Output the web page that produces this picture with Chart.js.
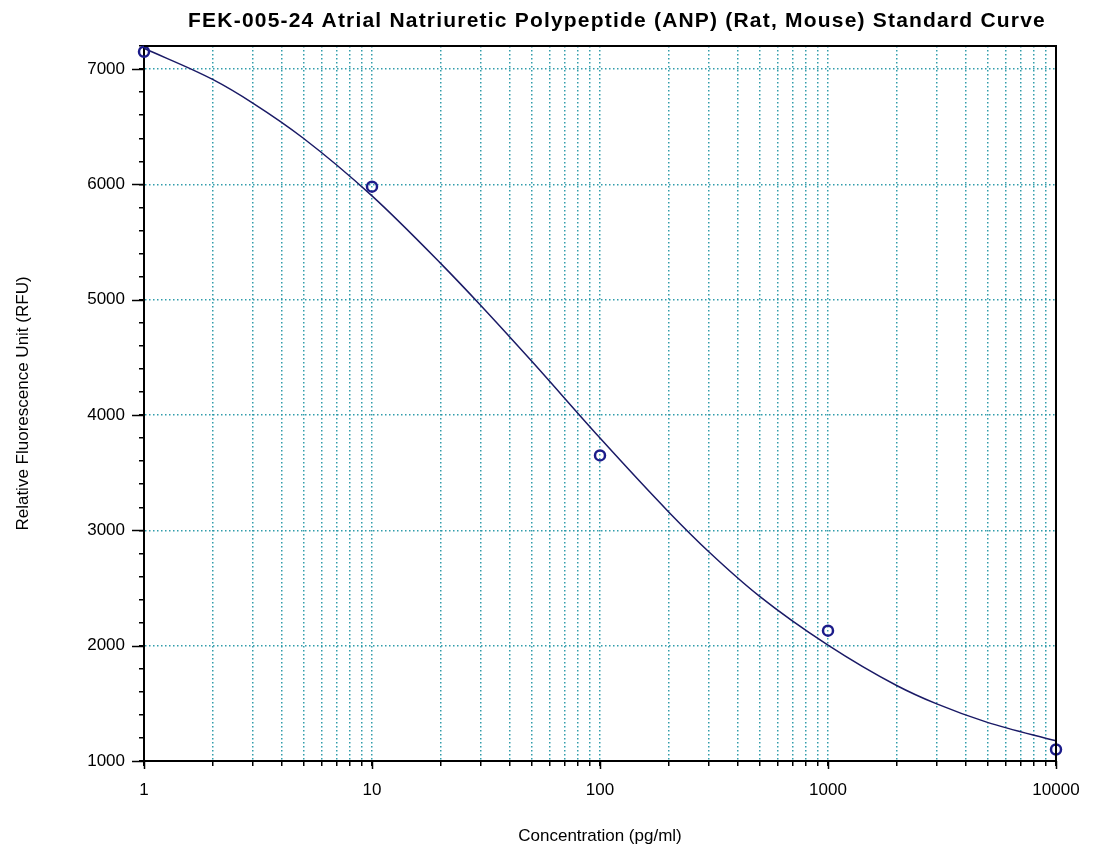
<!DOCTYPE html>
<html>
<head>
<meta charset="utf-8">
<title>ANP Standard Curve</title>
<script src="https://cdn.jsdelivr.net/npm/chart.js@4/dist/chart.umd.min.js"></script>
<style>
  html, body { margin: 0; padding: 0; background: #fff; }
  #wrap { width: 1096px; height: 852px; }
</style>
</head>
<body>
<div id="wrap"><canvas id="curveChart" width="1096" height="852"></canvas></div>
<script>
// standards (measured points)
const concentrations = [1, 10, 100, 1000, 10000];
const rfuMeasured = [7150, 5980, 3650, 2130, 1100];

// fitted curve
const curveConc = [1, 2, 3, 5, 10, 20, 30, 50, 100, 200, 300, 500, 1000, 2000, 3000, 5000, 10000];
const curveRfu = [7180, 6910, 6705, 6400, 5900, 5315, 4950, 4470, 3800, 3160, 2815, 2430, 2005, 1655, 1495, 1335, 1175];

const chartTitle = 'FEK-005-24 Atrial Natriuretic Polypeptide (ANP) (Rat, Mouse) Standard Curve';
const xTitle = 'Concentration (pg/ml)';
const yTitle = 'Relative Fluorescence Unit (RFU)';

const gridColor = 'rgba(38,152,166,0.95)';
const font = 'Liberation Sans, Arial, sans-serif';

function isPow10(v) {
    const p = Math.round(Math.log10(v));
    return Math.abs(v - Math.pow(10, p)) < 1e-6;
}

// title, top/right frame and longer major ticks
const framePlugin = {
    id: 'frame',
    afterDraw(chart) {
        const { ctx, chartArea: a, scales } = chart;
        ctx.save();
        ctx.fillStyle = '#000';
        ctx.font = 'bold 21px ' + font;
        ctx.textAlign = 'center';
        ctx.textBaseline = 'middle';
        if ('letterSpacing' in ctx) ctx.letterSpacing = '1.2px';
        ctx.fillText(chartTitle, 617, 21);
        if ('letterSpacing' in ctx) ctx.letterSpacing = '0px';

        ctx.strokeStyle = '#000';
        ctx.lineWidth = 2;
        ctx.beginPath();
        ctx.moveTo(a.left, a.top);
        ctx.lineTo(a.right, a.top);
        ctx.lineTo(a.right, a.bottom);
        ctx.stroke();

        ctx.lineWidth = 1.5;
        scales.y.ticks.forEach(t => {
            if (t.value % 1000 !== 0) return;
            const py = Math.round(scales.y.getPixelForValue(t.value)) + 0.5;
            ctx.beginPath();
            ctx.moveTo(a.left - 12, py);
            ctx.lineTo(a.left, py);
            ctx.stroke();
        });
        scales.x.ticks.forEach(t => {
            if (!isPow10(t.value)) return;
            const px = Math.round(scales.x.getPixelForValue(t.value)) + 0.5;
            ctx.beginPath();
            ctx.moveTo(px, a.bottom);
            ctx.lineTo(px, a.bottom + 8);
            ctx.stroke();
        });
        ctx.restore();
    }
};

const ctx = document.getElementById('curveChart').getContext('2d');
const curveChart = new Chart(ctx, {
    type: 'scatter',
    data: {
        datasets: [{
            label: 'Standards',
            data: concentrations.map((c, i) => ({ x: c, y: rfuMeasured[i] })),
            showLine: false,
            pointStyle: 'circle',
            pointRadius: 5,
            pointBorderWidth: 2.5,
            pointBorderColor: '#1c1c8a',
            pointBackgroundColor: 'rgba(0,0,0,0)',
            clip: false
        }, {
            label: 'Fit',
            data: curveConc.map((c, i) => ({ x: c, y: curveRfu[i] })),
            showLine: true,
            borderColor: '#1a1a66',
            borderWidth: 1.5,
            pointRadius: 0,
            cubicInterpolationMode: 'monotone',
            clip: false
        }]
    },
    options: {
        responsive: false,
        animation: false,
        layout: { padding: { left: 0, right: 40, top: 46, bottom: 0 } },
        plugins: {
            legend: { display: false },
            tooltip: { enabled: false },
            title: { display: false }
        },
        scales: {
            x: {
                type: 'logarithmic',
                min: 1,
                max: 10000,
                afterBuildTicks: s => {
                    s.ticks = s.ticks.filter(t => {
                        const m = t.value / Math.pow(10, Math.floor(Math.log10(t.value) + 1e-9));
                        return Math.abs(m - Math.round(m)) < 1e-6;
                    });
                },
                afterFit: s => { s.height = 91; },
                grid: {
                    color: c => (c.tick && (c.tick.value === 1 || c.tick.value === 10000)) ? 'rgba(0,0,0,0)' : gridColor,
                    lineWidth: 1.5,
                    tickColor: '#000',
                    tickLength: 5,
                    tickWidth: 1.5
                },
                border: { display: true, color: '#000', width: 2, dash: [1.5, 2.5] },
                ticks: {
                    autoSkip: false,
                    maxRotation: 0,
                    padding: 14,
                    color: '#000',
                    font: { family: font, size: 17 },
                    callback: v => isPow10(v) ? String(Math.round(v)) : ''
                },
                title: {
                    display: true,
                    text: xTitle,
                    color: '#000',
                    font: { family: font, size: 17 },
                    padding: { top: 0, bottom: 5 }
                }
            },
            y: {
                min: 1000,
                max: 7200,
                afterFit: s => { s.width = 144; },
                grid: {
                    color: c => (c.tick && c.tick.value % 1000 === 0 && c.tick.value !== 1000) ? gridColor : 'rgba(0,0,0,0)',
                    lineWidth: 1.5,
                    tickColor: '#000',
                    tickLength: 5,
                    tickWidth: 1.5
                },
                border: { display: true, color: '#000', width: 2, dash: [1.5, 2.5] },
                ticks: {
                    stepSize: 200,
                    autoSkip: false,
                    padding: 14,
                    color: '#000',
                    font: { family: font, size: 17 },
                    callback: v => v % 1000 === 0 ? String(v) : ''
                },
                title: {
                    display: true,
                    text: yTitle,
                    color: '#000',
                    font: { family: font, size: 17 },
                    padding: { top: 13, bottom: 0 }
                }
            }
        }
    },
    plugins: [framePlugin]
});
</script>
</body>
</html>
